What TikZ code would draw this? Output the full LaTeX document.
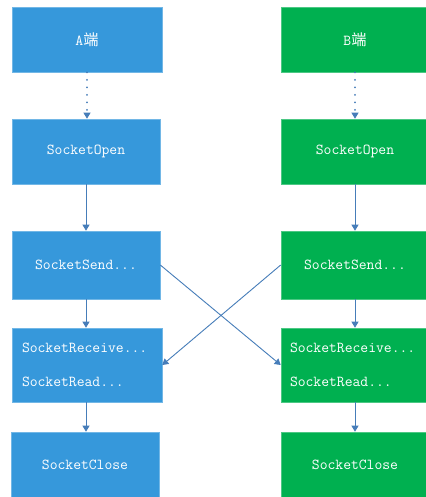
\documentclass[tikz,border=0pt]{standalone}
\usepackage{fontspec}
\newfontfamily\cjk{Noto Sans CJK SC}
\usetikzlibrary{arrows.meta}
\definecolor{boxblue}{RGB}{54,152,219}
\definecolor{boxgreen}{RGB}{0,176,80}
\definecolor{edgeblue}{RGB}{70,125,185}
\begin{document}
\begin{tikzpicture}[x=1pt,y=-1pt,
  stage/.style={rectangle, minimum width=148pt, minimum height=65pt,
    inner sep=0pt, text=white, font=\ttfamily\fontsize{15.2}{16}\selectfont,
    line width=0.6pt},
  sideA/.style={stage, fill=boxblue, draw=boxblue!70!white},
  sideB/.style={stage, fill=boxgreen, draw=boxgreen!70!white},
  twoline/.style={minimum height=74pt, text width=130pt, inner xsep=9pt,
    align=left, font=\ttfamily\fontsize{15.2}{34}\selectfont},
  flow/.style={draw=edgeblue, line width=0.9pt,
    -{Triangle[length=6pt,width=7pt]}},
  startflow/.style={flow, line width=2pt, line cap=round,
    dash pattern=on 0.01pt off 7.5pt,
    -{Triangle[length=6pt,width=7pt,line width=0.9pt]}}
]
\useasboundingbox[fill=white] (0,0) rectangle (425,497);

% side A (blue)
\node[sideA, minimum width=150pt] (a0) at (87,39.5) {A{\cjk 端}};
\node[sideA] (a1) at (86,151.5) {SocketOpen};
\node[sideA, minimum height=68pt] (a2) at (86,265) {SocketSend...};
\node[sideA, twoline, minimum width=150pt] (a3) at (87,365) {SocketReceive...\\SocketRead...};
\node[sideA, minimum height=66pt] (a4) at (85,465) {SocketClose};

% side B (green)
\node[sideB] (b0) at (355,39.5) {B{\cjk 端}};
\node[sideB] (b1) at (355,151.5) {SocketOpen};
\node[sideB, minimum height=68pt] (b2) at (355,265) {SocketSend...};
\node[sideB, twoline] (b3) at (355,365) {SocketReceive...\\SocketRead...};
\node[sideB, minimum height=66pt] (b4) at (355,465) {SocketClose};

% sequence within each side
\draw[startflow] (a0.south) -- (a1.north -| a0.south);
\draw[flow] (a1.south) -- (a2.north);
\draw[flow] (a2.south) -- (a3.north -| a2.south);
\draw[flow] (a3.south -| a2.south) -- (a4.north -| a2.south);

\draw[startflow] (b0.south) -- (b1.north);
\draw[flow] (b1.south) -- (b2.north);
\draw[flow] (b2.south) -- (b3.north);
\draw[flow] (b3.south) -- (b4.north);

% sends of one side reach the receives of the other
\draw[flow] (a2.east) -- (b3.west);
\draw[flow] (b2.west) -- (a3.east);
\end{tikzpicture}
\end{document}
